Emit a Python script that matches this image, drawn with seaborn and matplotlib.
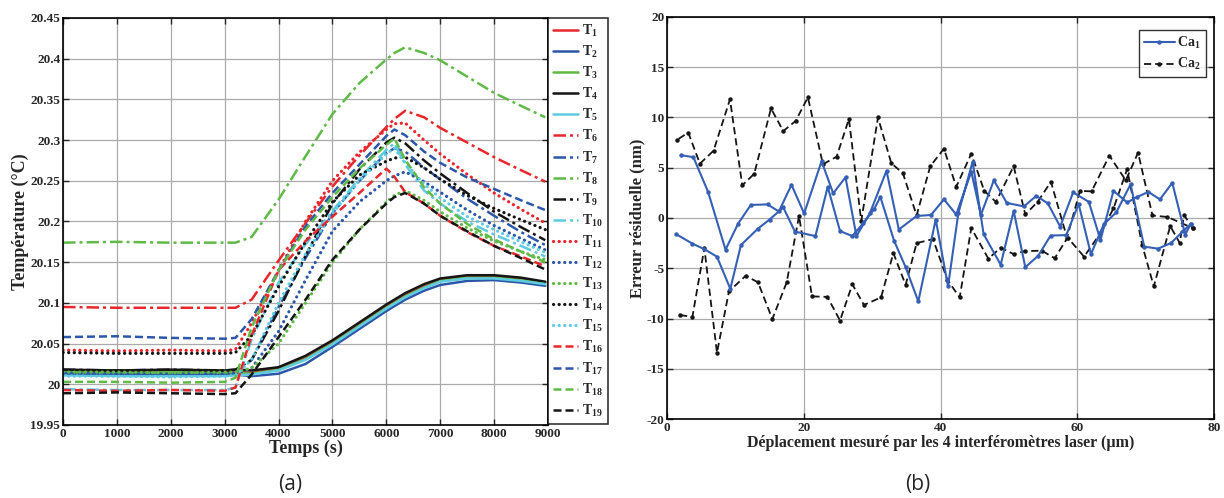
#!/usr/bin/env python3
import pandas as pd
import seaborn as sns
import matplotlib.pyplot as plt
from matplotlib.ticker import FormatStrFormatter, MultipleLocator

# ---- (a) temperatures, sampled at common times ----
time_s = [0, 1000, 2000, 3000, 3200, 3500, 4000, 4500, 5000, 5500,
          6000, 6150, 6350, 6700, 7000, 7500, 8000, 8500, 8950]

T1 = [20.016, 20.015, 20.016, 20.015, 20.015, 20.014, 20.019, 20.032, 20.051, 20.073,
      20.095, 20.101, 20.109, 20.120, 20.128, 20.132, 20.132, 20.129, 20.125]
T2 = [20.013, 20.012, 20.012, 20.012, 20.012, 20.010, 20.013, 20.025, 20.046, 20.068,
      20.090, 20.096, 20.104, 20.115, 20.122, 20.127, 20.128, 20.125, 20.121]
T3 = [20.015, 20.014, 20.015, 20.014, 20.014, 20.013, 20.018, 20.031, 20.050, 20.072,
      20.094, 20.100, 20.108, 20.119, 20.127, 20.131, 20.131, 20.128, 20.124]
T4 = [20.018, 20.017, 20.018, 20.017, 20.018, 20.017, 20.021, 20.035, 20.054, 20.076,
      20.098, 20.104, 20.112, 20.123, 20.130, 20.134, 20.134, 20.131, 20.126]
T5 = [20.011, 20.010, 20.010, 20.010, 20.011, 20.012, 20.017, 20.030, 20.049, 20.071,
      20.093, 20.099, 20.107, 20.118, 20.126, 20.130, 20.130, 20.127, 20.123]
T6 = [20.095, 20.094, 20.094, 20.094, 20.094, 20.104, 20.152, 20.198, 20.243, 20.281,
      20.316, 20.326, 20.336, 20.328, 20.315, 20.297, 20.279, 20.263, 20.249]
T7 = [20.014, 20.013, 20.013, 20.013, 20.014, 20.030, 20.095, 20.155, 20.210, 20.250,
      20.284, 20.290, 20.286, 20.266, 20.252, 20.228, 20.207, 20.187, 20.171]
T8 = [20.174, 20.175, 20.174, 20.174, 20.174, 20.181, 20.227, 20.280, 20.332, 20.370,
      20.399, 20.407, 20.414, 20.407, 20.398, 20.378, 20.358, 20.342, 20.328]
T9 = [20.018, 20.017, 20.018, 20.017, 20.018, 20.030, 20.090, 20.158, 20.222, 20.264,
      20.297, 20.303, 20.296, 20.275, 20.259, 20.235, 20.212, 20.193, 20.177]
T10 = [19.994, 19.993, 19.993, 19.993, 19.996, 20.055, 20.125, 20.172, 20.213, 20.253,
       20.288, 20.296, 20.270, 20.238, 20.222, 20.200, 20.184, 20.170, 20.157]
T11 = [20.042, 20.041, 20.042, 20.041, 20.043, 20.075, 20.140, 20.200, 20.250, 20.285,
       20.313, 20.320, 20.321, 20.300, 20.283, 20.258, 20.235, 20.215, 20.198]
T12 = [20.013, 20.012, 20.013, 20.012, 20.013, 20.020, 20.065, 20.128, 20.188, 20.224,
       20.250, 20.256, 20.261, 20.249, 20.236, 20.214, 20.195, 20.179, 20.165]
T13 = [20.015, 20.015, 20.014, 20.015, 20.015, 20.020, 20.050, 20.100, 20.150, 20.190,
       20.224, 20.232, 20.238, 20.226, 20.212, 20.192, 20.176, 20.163, 20.153]
T14 = [20.039, 20.038, 20.038, 20.038, 20.039, 20.060, 20.120, 20.175, 20.224, 20.257,
       20.274, 20.278, 20.279, 20.266, 20.252, 20.232, 20.216, 20.202, 20.190]
T15 = [20.010, 20.010, 20.009, 20.010, 20.011, 20.030, 20.100, 20.160, 20.210, 20.250,
       20.283, 20.290, 20.272, 20.246, 20.229, 20.206, 20.190, 20.175, 20.162]
T16 = [19.993, 19.992, 19.993, 19.992, 19.996, 20.060, 20.140, 20.176, 20.206, 20.235,
       20.265, 20.255, 20.236, 20.222, 20.207, 20.187, 20.170, 20.157, 20.145]
T17 = [20.058, 20.059, 20.057, 20.056, 20.057, 20.080, 20.140, 20.194, 20.235, 20.270,
       20.305, 20.313, 20.306, 20.286, 20.272, 20.254, 20.240, 20.226, 20.214]
T18 = [20.003, 20.003, 20.002, 20.003, 20.008, 20.070, 20.140, 20.190, 20.230, 20.265,
       20.294, 20.302, 20.276, 20.242, 20.222, 20.197, 20.178, 20.163, 20.150]
T19 = [19.989, 19.990, 19.989, 19.988, 19.989, 20.012, 20.058, 20.104, 20.153, 20.190,
       20.222, 20.230, 20.235, 20.222, 20.207, 20.188, 20.170, 20.155, 20.141]

# ---- (b) residual error, one branch out and one branch back per calibration ----
ca1_out_x = [1.3, 3.7, 5.45, 7.3, 9.25, 10.8, 13.3, 15.0, 17.0, 18.7, 21.7, 23.5, 25.3,
             27.1, 28.7, 30.3, 31.2, 33.2, 34.9, 36.75, 39.3, 41.1, 42.6, 44.7, 46.3,
             48.8, 50.7, 52.4, 54.3, 56.1, 58.4, 60.2, 62.0, 63.9, 65.7, 67.8, 69.8,
             71.8, 73.7, 75.5, 76.6]
ca1_out_y = [-1.6, -2.55, -3.1, -3.85, -7.05, -2.7, -1.05, -0.15, 1.05, -1.35, -1.8, 3.1,
             -1.3, -1.8, -0.5, 0.9, 2.1, -2.25, -4.9, -8.3, -0.15, -6.8, 0.45, 5.6, -1.6,
             -4.65, 0.7, -4.9, -3.75, -1.75, -1.7, 1.4, -3.6, -0.6, 0.55, 3.35, -2.85,
             -3.05, -2.5, -1.3, -0.6]
ca1_back_x = [76.6, 75.8, 73.9, 72.1, 70.4, 68.8, 67.3, 65.3, 63.4, 61.7, 59.4, 57.5,
              55.7, 54.0, 52.2, 49.7, 47.8, 45.9, 44.5, 42.3, 40.5, 38.6, 36.5, 33.9,
              32.1, 29.65, 27.7, 26.1, 24.3, 22.6, 20.05, 18.2, 16.35, 14.7, 12.25,
              10.4, 8.55, 6.0, 3.85, 2.0]
ca1_back_y = [-0.6, -1.65, 3.5, 1.85, 2.6, 2.1, 1.55, 2.7, -2.2, 1.6, 2.55, -0.85, 1.45,
              2.2, 1.15, 1.5, 3.75, 0.3, 4.6, 0.35, 1.85, 0.3, 0.2, -1.15, 4.7, 0.45,
              -1.8, 4.05, 2.45, 5.65, 0.45, 3.3, 0.65, 1.35, 1.3, -0.55, -3.15, 2.6,
              6.05, 6.25]

ca2_out_x = [1.9, 3.7, 5.45, 7.3, 9.05, 11.5, 13.3, 15.4, 17.5, 19.3, 21.2, 23.45, 25.3,
             27.1, 28.8, 31.3, 33.1, 34.9, 36.5, 38.9, 41.0, 42.8, 44.5, 47.0, 48.8,
             50.7, 52.3, 54.8, 56.7, 58.6, 61.0, 63.4, 65.3, 67.3, 69.5, 71.2, 73.6,
             75.0, 75.6, 76.9]
ca2_out_y = [-9.65, -9.85, -3.0, -13.4, -7.3, -5.75, -6.4, -10.05, -6.4, 0.2, -7.8, -7.85,
             -10.2, -6.6, -8.65, -7.9, -3.5, -6.65, -2.5, -2.1, -6.15, -7.9, -1.0, -4.05,
             -2.95, -3.6, -3.3, -3.25, -4.0, -1.95, -3.85, -1.5, 0.95, 4.85, -2.7, -6.8,
             -0.8, -2.5, 0.3, -1.0]
ca2_back_x = [76.9, 73.2, 71.0, 68.9, 67.1, 64.7, 62.1, 60.4, 58.5, 56.15, 54.2, 52.4,
              50.7, 48.1, 46.4, 44.5, 42.3, 40.5, 38.5, 36.5, 34.5, 32.8, 30.85, 28.4,
              26.6, 24.8, 22.8, 20.6, 18.8, 17.0, 15.2, 12.75, 11.0, 9.2, 6.8, 4.8,
              3.1, 1.4]
ca2_back_y = [-1.0, 0.1, 0.25, 6.5, 3.75, 6.2, 2.65, 2.7, -1.95, 3.6, 1.6, 0.35, 5.15,
              1.6, 2.7, 6.4, 3.1, 6.9, 5.15, 0.25, 4.45, 5.45, 10.0, -0.3, 9.85, 6.1,
              5.35, 12.0, 9.65, 8.65, 10.9, 4.4, 3.25, 11.8, 6.7, 5.4, 8.5, 7.75]


def main():
    sns.set_style("ticks")
    plt.rcParams["font.family"] = ["Liberation Serif", "DejaVu Serif"]
    plt.rcParams["font.weight"] = "bold"
    plt.rcParams["axes.labelweight"] = "bold"
    plt.rcParams["axes.unicode_minus"] = False
    plt.rcParams["mathtext.fontset"] = "custom"
    plt.rcParams["mathtext.rm"] = "Liberation Serif:bold"
    plt.rcParams["mathtext.it"] = "Liberation Serif:bold"
    plt.rcParams["mathtext.bf"] = "Liberation Serif:bold"

    fig = plt.figure(figsize=(12.24, 4.98), dpi=100)
    ax1 = fig.add_axes([0.0515, 0.1466, 0.3962, 0.8173])
    ax2 = fig.add_axes([0.545, 0.1586, 0.4468, 0.8073])

    colors = ["#e8262b", "#2c57a8", "#5fba46", "#151515", "#5fcbe0"]
    dashdot = (0, (5, 1.6, 1.2, 1.6))
    dotted = (0, (0.05, 1.7))
    dashed = (0, (3.2, 1.6))
    styles = ["-"] * 5 + [dashdot] * 5 + [dotted] * 5 + [dashed] * 4

    series = [T1, T2, T3, T4, T5, T6, T7, T8, T9, T10,
              T11, T12, T13, T14, T15, T16, T17, T18, T19]
    for i, vals in enumerate(series):
        df = pd.DataFrame({"time": time_s, "temp": vals})
        is_dot = styles[i] is dotted
        sns.lineplot(data=df, x="time", y="temp", ax=ax1, color=colors[i % 5],
                     linestyle=styles[i], linewidth=2.3 if is_dot else 1.8,
                     dash_capstyle="round" if is_dot else "butt",
                     label=f"T$_{{{i + 1}}}$")

    ax1.set_xlim(0, 9000)
    ax1.set_ylim(19.95, 20.45)
    ax1.xaxis.set_major_locator(MultipleLocator(1000))
    ax1.yaxis.set_major_locator(MultipleLocator(0.05))
    ax1.yaxis.set_major_formatter(FormatStrFormatter("%g"))
    ax1.set_xlabel("Temps (s)", fontsize=13, labelpad=0)
    ax1.set_ylabel("Température (°C)", fontsize=13, labelpad=1)

    leg = ax1.legend(loc="upper left", bbox_to_anchor=(1.0, 1.0), borderaxespad=0,
                     fontsize=10, frameon=True, fancybox=False, edgecolor="black",
                     handlelength=1.8, handletextpad=0.3, labelspacing=0.36,
                     borderpad=0.35)
    leg.get_frame().set_linewidth(1.2)

    # (b)
    blue = "#3560b5"
    ca1 = pd.DataFrame({"x": ca1_out_x + ca1_back_x, "y": ca1_out_y + ca1_back_y})
    ca2 = pd.DataFrame({"x": ca2_out_x + ca2_back_x, "y": ca2_out_y + ca2_back_y})
    sns.lineplot(data=ca2, x="x", y="y", ax=ax2, sort=False, estimator=None,
                 color="#151515", linestyle=(0, (4, 2.2)), linewidth=1.3,
                 marker="o", markersize=3.2, markeredgewidth=0, label="Ca$_2$")
    sns.lineplot(data=ca1, x="x", y="y", ax=ax2, sort=False, estimator=None,
                 color=blue, linewidth=1.5, marker="o", markersize=3.2,
                 markeredgewidth=0, label="Ca$_1$")
    ax2.set_xlim(0, 80)
    ax2.set_ylim(-20, 20)
    ax2.xaxis.set_major_locator(MultipleLocator(20))
    ax2.yaxis.set_major_locator(MultipleLocator(5))
    ax2.set_xlabel("Déplacement mesuré par les 4 interféromètres laser (µm)",
                   fontsize=11.5, labelpad=1)
    ax2.set_ylabel("Erreur résiduelle (nm)", fontsize=12, labelpad=1)
    h, l = ax2.get_legend_handles_labels()
    leg2 = ax2.legend(h[::-1], l[::-1], loc="upper right", bbox_to_anchor=(0.985, 0.968),
                      borderaxespad=0, fontsize=10, frameon=True, fancybox=False,
                      edgecolor="black", handlelength=2.2, handletextpad=0.2,
                      labelspacing=0.4, borderpad=0.35)
    leg2.get_frame().set_linewidth(1.0)

    for ax in (ax1, ax2):
        ax.grid(True, color="#aaaaaa", linewidth=0.9)
        ax.tick_params(direction="in", top=True, right=True, length=4,
                       width=1, labelsize=9.5, pad=2)
        for lab in ax.get_xticklabels() + ax.get_yticklabels():
            lab.set_fontweight("bold")
        for sp in ax.spines.values():
            sp.set_linewidth(1.2)
            sp.set_color("black")
            sp.set_visible(True)

    fig.text(0.237, 0.028, "(a)", ha="center", va="center", fontsize=15,
             family=["Open Sans", "DejaVu Sans"], fontweight="normal")
    fig.text(0.75, 0.028, "(b)", ha="center", va="center", fontsize=15,
             family=["Open Sans", "DejaVu Sans"], fontweight="normal")

    fig.savefig("out.png", dpi=100)
    plt.close(fig)


if __name__ == "__main__":
    main()
